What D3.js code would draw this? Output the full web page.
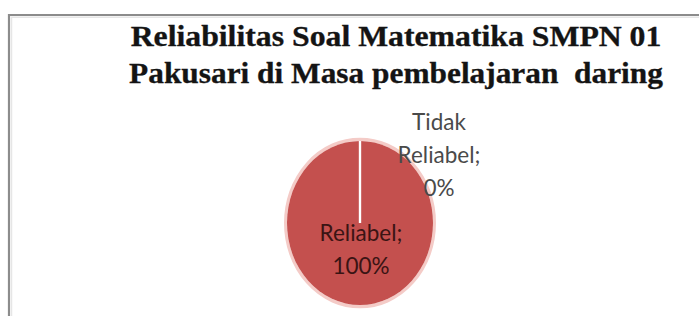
<!DOCTYPE html>
<html>
<head>
<meta charset="utf-8">
<script src="https://cdn.jsdelivr.net/npm/d3@7"></script>
<style>
  html, body { margin: 0; padding: 0; background: #fff; }
  svg { display: block; }
</style>
</head>
<body>
<svg id="chart" width="699" height="316"></svg>
<script>
const titleLines = ["Reliabilitas Soal Matematika SMPN 01", "Pakusari di Masa pembelajaran  daring"];
const categories = ["Reliabel", "Tidak Reliabel"];
const values = [100, 0];
const colors = ["#c4504e", "#4f81bd"];

const W = 699, H = 316;
const svg = d3.select("#chart");

// frame
svg.append("path")
  .attr("d", `M9,${H + 5} L9,15 L${W + 5},15`)
  .attr("fill", "none").attr("stroke", "#8c8c8c").attr("stroke-width", 2.2);
svg.append("path")
  .attr("d", `M11.5,${H + 5} L11.5,17.3 L${W + 5},17.3`)
  .attr("fill", "none").attr("stroke", "#e6e6e6").attr("stroke-width", 1.5);

// title: fixed cap height, stretched horizontally to the measured width
const titleBase = [46, 83];
const titleWidth = [531, 534];
titleLines.forEach((t, i) => {
  const txt = svg.append("text")
    .attr("text-anchor", "middle")
    .attr("font-family", "'Liberation Serif', 'Times New Roman', serif")
    .attr("font-weight", "bold")
    .attr("font-size", 28.5)
    .attr("fill", "#141414")
    .attr("stroke", "#141414").attr("stroke-width", 0.3)
    .style("white-space", "pre")
    .text(t);
  const w = txt.node().getComputedTextLength();
  txt.attr("transform", `translate(396,${titleBase[i]}) scale(${titleWidth[i] / w},1)`);
});

// pie
const cx = 360, cy = 223, rx = 73, ry = 82;
const g = svg.append("g").attr("transform", `translate(${cx},${cy}) scale(1,${ry / rx})`);
const pie = d3.pie().sort(null).value(d => d.value);
const data = pie(categories.map((c, i) => ({ cat: c, value: values[i], color: colors[i] })));
const arc = d3.arc().innerRadius(0).outerRadius(rx);

// glow ring
g.append("circle").attr("r", rx + 1.5).attr("fill", "none")
  .attr("stroke", "#f4cbc7").attr("stroke-width", 3);

g.selectAll("path.slice").data(data).enter().append("path")
  .attr("class", "slice")
  .attr("d", arc)
  .attr("fill", d => d.data.color)
  .attr("stroke", "none");

// separators
g.selectAll("line.sep").data(data).enter().append("line")
  .attr("class", "sep")
  .attr("x1", 0).attr("y1", 0)
  .attr("x2", d => Math.sin(d.startAngle) * rx)
  .attr("y2", d => -Math.cos(d.startAngle) * rx)
  .attr("stroke", "#ffffff").attr("stroke-width", 2.2);

// labels
const labFont = "Lato, 'Open Sans', sans-serif";
const vs = 1.06;
function addLabel(lines, x, y, col) {
  lines.forEach((l, i) => {
    svg.append("text")
      .attr("text-anchor", "middle")
      .attr("transform", `translate(${x},${y + i * 33}) scale(1,${vs})`)
      .attr("font-family", labFont)
      .attr("font-size", 22.5)
      .attr("fill", col)
      .text(l);
  });
}
data.forEach(d => {
  const pct = Math.round(d.data.value / d3.sum(values) * 100) + "%";
  if (d.data.value > 0) {
    const mid = (d.startAngle + d.endAngle) / 2;
    const lx = cx + Math.sin(mid) * rx * 0.0 + 1;
    const ly = cy - Math.cos(mid) * ry * 0.22;
    addLabel([d.data.cat + ";", pct], lx, ly, "#3a1414");
  } else {
    const a = d.startAngle;
    const ox = cx + Math.sin(a) * rx;
    const oy = cy - Math.cos(a) * ry;
    const words = d.data.cat.split(" ");
    addLabel([words[0], words[1] + ";", pct], ox + 79, oy - 11, "#4a4a4a");
  }
});
</script>
</body>
</html>
